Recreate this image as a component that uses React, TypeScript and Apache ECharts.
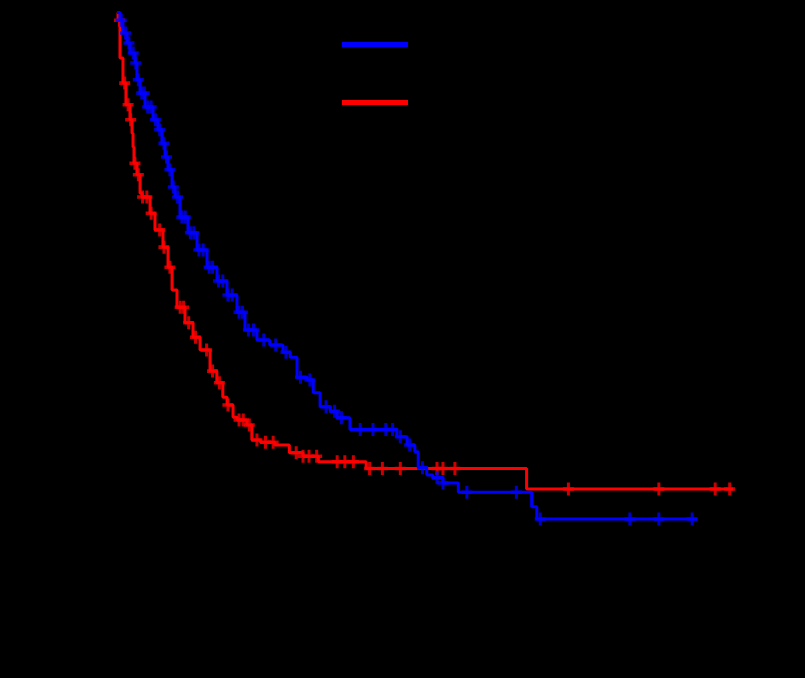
import React, { useEffect, useRef } from "react";
import * as echarts from "echarts";

// Kaplan–Meier step points: time (months) and survival probability
const blueTimes = [0, 0.35, 0.7, 1.17, 1.52, 2.11, 2.34, 2.7, 3.28, 4.22, 4.8, 5.27, 5.63, 5.98, 6.45, 6.8, 7.38, 8.32, 9.38, 10.55, 11.72, 12.89, 14.06, 15.0, 16.4, 17.9, 19.45, 20.3, 21.1, 22.3, 23.0, 23.8, 25.0, 25.8, 27.3, 32.8, 34.0, 34.9, 35.3, 36.3, 37.0, 38.2, 40.0, 48.6, 49.2, 68.0];
const blueSurv = [1.0, 0.986, 0.963, 0.945, 0.927, 0.909, 0.879, 0.855, 0.83, 0.807, 0.789, 0.765, 0.74, 0.717, 0.686, 0.668, 0.632, 0.604, 0.573, 0.542, 0.517, 0.492, 0.461, 0.429, 0.411, 0.402, 0.389, 0.38, 0.344, 0.339, 0.316, 0.291, 0.283, 0.271, 0.25, 0.237, 0.222, 0.21, 0.181, 0.168, 0.163, 0.154, 0.137, 0.111, 0.089, 0.089];

const redTimes = [0, 0.12, 0.35, 0.7, 1.05, 1.52, 1.76, 1.88, 1.99, 2.34, 2.7, 2.93, 3.87, 4.45, 5.39, 5.98, 6.45, 7.03, 7.97, 8.91, 9.73, 10.9, 11.7, 12.4, 12.9, 13.6, 14.1, 15.2, 15.8, 16.8, 18.5, 20.2, 21.8, 23.6, 29.2, 48.0, 72.2];
const redSurv = [1.0, 0.986, 0.918, 0.873, 0.834, 0.807, 0.783, 0.758, 0.729, 0.708, 0.675, 0.668, 0.639, 0.609, 0.578, 0.542, 0.501, 0.47, 0.442, 0.416, 0.393, 0.355, 0.334, 0.308, 0.294, 0.272, 0.267, 0.258, 0.231, 0.227, 0.222, 0.208, 0.202, 0.192, 0.18, 0.143, 0.143];

// censored observations (times)
const blueCensor = [0.5, 1.0, 1.4, 1.9, 2.2, 2.5, 2.9, 3.2, 3.6, 4.0, 4.5, 5.0, 5.5, 5.8, 6.2, 6.6, 7.1, 7.6, 8.0, 8.6, 9.0, 9.6, 10.1, 10.8, 11.2, 11.9, 12.4, 13.0, 13.5, 14.3, 14.7, 15.4, 16.0, 17.2, 18.6, 19.8, 21.5, 22.6, 24.5, 25.5, 26.3, 28.5, 30.0, 31.5, 32.3, 33.2, 34.3, 35.8, 37.5, 38.2, 41.0, 46.8, 49.6, 60.1, 63.5, 67.4];
const redCensor = [0.3, 0.9, 1.3, 1.6, 2.1, 2.5, 3.0, 3.5, 4.0, 5.0, 5.5, 6.2, 7.4, 7.8, 8.4, 9.2, 10.5, 11.2, 12.0, 13.0, 14.3, 14.8, 15.5, 16.4, 17.4, 18.3, 21.0, 21.8, 22.5, 23.4, 25.8, 26.7, 27.7, 29.6, 31.1, 33.2, 37.5, 38.2, 39.6, 52.9, 63.5, 70.1, 71.8];

const seriesNames = ["Low", "High"];
const xTicks = { min: 0, max: 78, interval: 6 };
const yTicks = { min: 0, max: 1, interval: 0.2 };

const PLUS = "path://M4,0h3v4h4v3h-4v4h-3v-4h-4v-3h4z";

function survAt(times: number[], surv: number[], t: number) {
  let s = surv[0];
  for (let i = 0; i < times.length; i++) {
    if (times[i] <= t) s = surv[i];
  }
  return s;
}

export default function App() {
  const ref = useRef<HTMLDivElement>(null);
  useEffect(() => {
    if (!ref.current) return;
    const chart = echarts.init(ref.current, null, { renderer: "svg" });
    const font = "Liberation Sans";
    const blueLine = blueTimes.map((t, i) => [t, blueSurv[i]]);
    const redLine = redTimes.map((t, i) => [t, redSurv[i]]);
    const blueC = blueCensor.map((t) => [t, survAt(blueTimes, blueSurv, t)]);
    const redC = redCensor.map((t) => [t, survAt(redTimes, redSurv, t)]);
    chart.setOption({
      animation: false,
      backgroundColor: "#000000",
      grid: { left: 117, right: 22.4, top: 12.5, bottom: 109.5 },
      legend: {
        orient: "vertical",
        left: 342,
        top: 32,
        padding: 0,
        itemWidth: 66,
        itemHeight: 5,
        itemGap: 33,
        icon: "rect",
        data: seriesNames,
        textStyle: { color: "#000000", fontSize: 25, fontFamily: font },
      },
      xAxis: {
        type: "value",
        min: xTicks.min,
        max: xTicks.max,
        interval: xTicks.interval,
        axisLine: { show: true, lineStyle: { color: "#000000" } },
        axisTick: { show: true, lineStyle: { color: "#000000" } },
        splitLine: { show: false },
        axisLabel: { color: "#000000", fontSize: 25, fontFamily: font, margin: 19 },
      },
      yAxis: {
        type: "value",
        min: yTicks.min,
        max: yTicks.max,
        interval: yTicks.interval,
        axisLine: { show: true, lineStyle: { color: "#000000" } },
        axisTick: { show: true, lineStyle: { color: "#000000" } },
        splitLine: { show: false },
        axisLabel: {
          color: "#000000",
          fontSize: 25,
          fontFamily: font,
          margin: 20,
          formatter: (v: number) => v.toFixed(1),
        },
      },
      series: [
        {
          name: seriesNames[0],
          type: "line",
          step: "end",
          data: blueLine,
          showSymbol: false,
          symbol: "none",
          color: "#0000ff",
          lineStyle: { color: "#0000ff", width: 3 },
          z: 3,
        },
        {
          name: seriesNames[1],
          type: "line",
          step: "end",
          data: redLine,
          showSymbol: false,
          symbol: "none",
          color: "#ff0000",
          lineStyle: { color: "#ff0000", width: 3 },
          z: 2,
        },
        {
          name: seriesNames[0] + " censored",
          type: "scatter",
          data: blueC,
          symbol: PLUS,
          symbolSize: [11, 13],
          itemStyle: { color: "#0000ff" },
          z: 3,
        },
        {
          name: seriesNames[1] + " censored",
          type: "scatter",
          data: redC,
          symbol: PLUS,
          symbolSize: [11, 13],
          itemStyle: { color: "#ff0000" },
          z: 2,
        },
      ],
    });
    return () => chart.dispose();
  }, []);
  return (
    <div
      ref={ref}
      style={{ position: "fixed", left: 0, top: 0, width: 805, height: 678, background: "#000" }}
    />
  );
}
